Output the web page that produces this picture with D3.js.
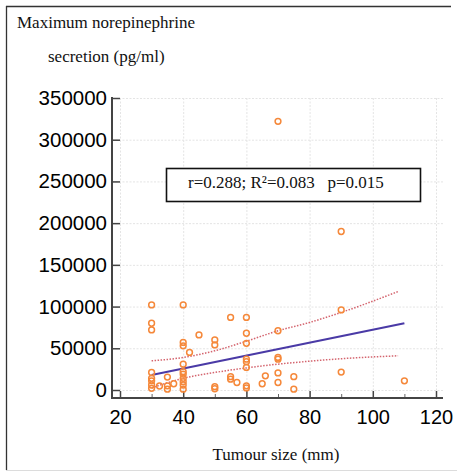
<!DOCTYPE html>
<html>
<head>
<meta charset="utf-8">
<script src="https://cdn.jsdelivr.net/npm/d3@7/dist/d3.min.js"></script>
<style>
  html, body { margin: 0; padding: 0; background: #fff; }
  svg { display: block; }
</style>
</head>
<body>
<svg id="chart" width="457" height="474"></svg>
<script>
// ---- data ----
const sizeMm = [
  30,30,30,30,30,30,30,30,
  32.5,35,35,35,37,
  40,40,40,40,40,40,40,40,40,40,
  42,45,50,50,50,50,
  55,55,55,57,
  60,60,60,60,60,60,60,60,
  65,66,
  70,70,70,70,70,70,
  75,75,
  90,90,90,
  110
];
const norepi = [
  102000,80000,72000,21000,14000,11000,6000,2000,
  4800,15500,5000,1000,7500,
  102000,57000,53000,31000,22000,19000,14000,10000,6000,1000,
  45000,66000,60000,54000,4000,1500,
  87000,16000,13000,9000,
  87000,68000,56000,37000,34000,27000,5000,2500,
  7500,17000,
  322000,71000,39000,37000,20500,9000,
  16000,1000,
  190000,96000,21500,
  11000
];
// regression line endpoints
const regX = [30, 110];
const regY = [18000, 80000];
// 95% confidence band
const bandX = [30, 40, 50, 60, 70, 80, 90, 108];
const bandUpper = [35000, 39000, 47000, 58500, 71000, 81000, 93000, 118000];
const bandLower = [2500, 14000, 21000, 26500, 31000, 34500, 37500, 41000];
const xTicks = [20, 40, 60, 80, 100, 120];
const xMinorTicks = [30, 50, 70, 90, 110];
const yTicks = [0, 50000, 100000, 150000, 200000, 250000, 300000, 350000];
const yTitle = ["Maximum norepinephrine", "secretion (pg/ml)"];
const xTitle = "Tumour size (mm)";
const statText = "r=0.288; R\u00B2=0.083   p=0.015";

// ---- drawing ----
const svg = d3.select("#chart");
const serif = "'Liberation Serif', 'Times New Roman', serif";
const sans = "'Liberation Sans', Arial, Helvetica, sans-serif";

const x = d3.scaleLinear().domain([20, 120]).range([120, 436]);
const y = d3.scaleLinear().domain([0, 350000]).range([390, 98]);
const axisX0 = 112, axisY0 = 398, plotRight = 443;

// outer frame
svg.append("line").attr("x1", 6).attr("x2", 451).attr("y1", 6.5).attr("y2", 6.5)
  .attr("stroke", "#333").attr("stroke-width", 1.3);
svg.append("line").attr("x1", 6.5).attr("x2", 6.5).attr("y1", 6).attr("y2", 470)
  .attr("stroke", "#333").attr("stroke-width", 1.3);
svg.append("line").attr("x1", 6).attr("x2", 457).attr("y1", 470.5).attr("y2", 470.5)
  .attr("stroke", "#dcdcdc").attr("stroke-width", 1);

// grid
const grid = svg.append("g").attr("stroke", "#e4e4e4").attr("stroke-width", 1)
  .attr("stroke-dasharray", "2,1.5");
grid.selectAll("line.h").data(yTicks).join("line").attr("class", "h")
  .attr("x1", axisX0).attr("x2", plotRight)
  .attr("y1", d => y(d) + 0.5).attr("y2", d => y(d) + 0.5);
grid.selectAll("line.v").data(xTicks).join("line").attr("class", "v")
  .attr("x1", d => x(d) + 0.5).attr("x2", d => x(d) + 0.5)
  .attr("y1", y(350000)).attr("y2", axisY0);

// y axis
const gy = svg.append("g").attr("transform", `translate(${axisX0},0)`)
  .call(d3.axisLeft(y).tickValues(yTicks).tickFormat(d3.format("d"))
    .tickSizeInner(-8).tickSizeOuter(0).tickPadding(5));
gy.select(".domain").remove();
gy.selectAll(".tick line").attr("stroke", "#444").attr("stroke-width", 1.5);
gy.selectAll(".tick text").attr("font-family", sans).attr("font-size", 20.5)
  .attr("fill", "#000");
svg.append("line").attr("x1", axisX0).attr("x2", axisX0)
  .attr("y1", y(350000) - 1).attr("y2", axisY0 + 1)
  .attr("stroke", "#444").attr("stroke-width", 2);

// x axis
const gx = svg.append("g").attr("transform", `translate(0,${axisY0})`)
  .call(d3.axisBottom(x).tickValues(xTicks).tickFormat(d3.format("d"))
    .tickSizeInner(-7).tickSizeOuter(0).tickPadding(12));
gx.select(".domain").remove();
gx.selectAll(".tick line").attr("stroke", "#444").attr("stroke-width", 1.5);
gx.selectAll(".tick text").attr("font-family", sans).attr("font-size", 20)
  .attr("fill", "#000");
const gxm = svg.append("g").attr("transform", `translate(0,${axisY0})`)
  .call(d3.axisBottom(x).tickValues(xMinorTicks).tickFormat("")
    .tickSizeInner(-4).tickSizeOuter(0));
gxm.select(".domain").remove();
gxm.selectAll(".tick line").attr("stroke", "#666").attr("stroke-width", 1);
svg.append("line").attr("x1", axisX0 - 1).attr("x2", plotRight)
  .attr("y1", axisY0).attr("y2", axisY0)
  .attr("stroke", "#444").attr("stroke-width", 2);

// confidence bands
const bandLine = d3.line().x(d => x(d[0])).y(d => y(d[1])).curve(d3.curveMonotoneX);
[bandUpper, bandLower].forEach(arr => {
  svg.append("path").datum(bandX.map((v, i) => [v, arr[i]]))
    .attr("d", bandLine).attr("fill", "none")
    .attr("stroke", "#d4646e").attr("stroke-width", 1.5)
    .attr("stroke-dasharray", "1.5,1.5");
});

// regression line
svg.append("path").datum(regX.map((v, i) => [v, regY[i]]))
  .attr("d", d3.line().x(d => x(d[0])).y(d => y(d[1])))
  .attr("fill", "none").attr("stroke", "#4a3aa6").attr("stroke-width", 2.2);

// points
svg.append("g").selectAll("circle").data(sizeMm.map((v, i) => [v, norepi[i]]))
  .join("circle")
  .attr("cx", d => x(d[0])).attr("cy", d => y(d[1])).attr("r", 2.9)
  .attr("fill", "none").attr("stroke", "#f5883a").attr("stroke-width", 1.5);

// stats box
svg.append("rect").attr("x", 166.5).attr("y", 168.5).attr("width", 254).attr("height", 33)
  .attr("fill", "#fff").attr("stroke", "#111").attr("stroke-width", 1.6);
svg.append("text").attr("x", 188).attr("y", 187.5)
  .attr("font-family", serif).attr("font-size", 17).attr("fill", "#111")
  .style("white-space", "pre").text(statText);

// titles
svg.append("g").selectAll("text").data(yTitle).join("text")
  .attr("x", (d, i) => i === 0 ? 17 : 48)
  .attr("y", (d, i) => i === 0 ? 28 : 62)
  .attr("font-family", serif).attr("font-size", 17).attr("fill", "#111")
  .text(d => d);
svg.append("text").attr("x", 276).attr("y", 460).attr("text-anchor", "middle")
  .attr("font-family", serif).attr("font-size", 17).attr("fill", "#111")
  .text(xTitle);
</script>
</body>
</html>
